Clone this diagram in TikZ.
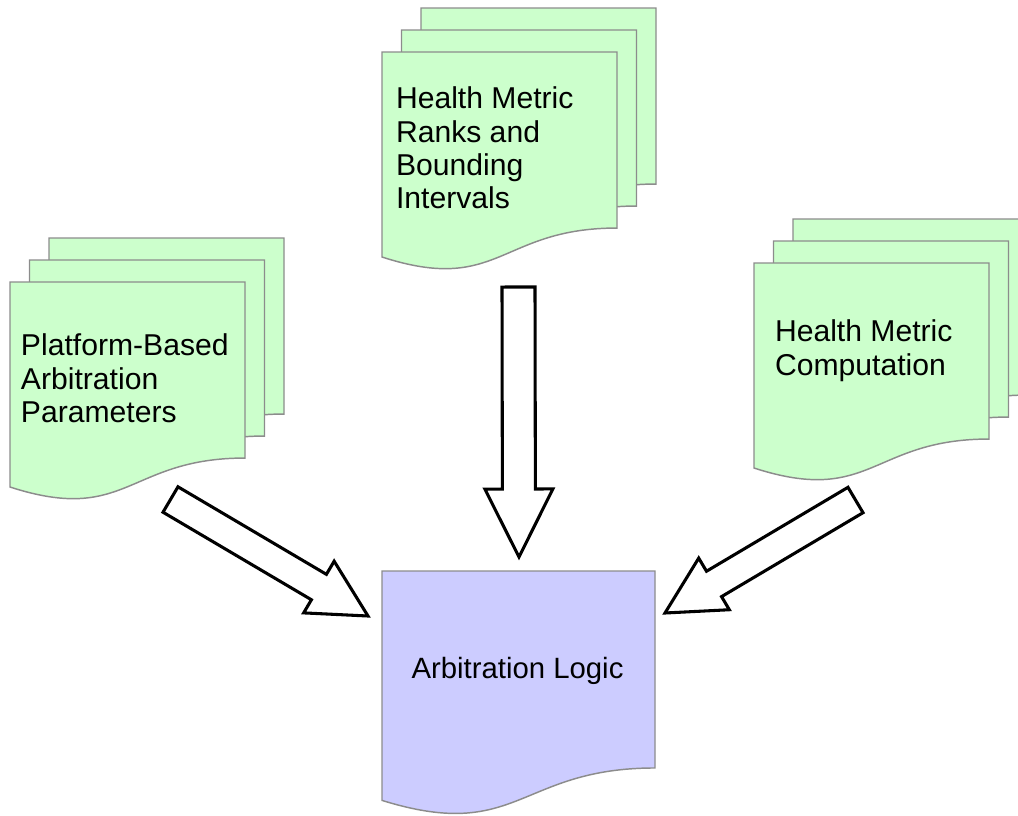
\documentclass[tikz,border=0pt]{standalone}
\usepackage{fontspec}
\setmainfont{Liberation Sans}
\usetikzlibrary{calc}

\definecolor{pagegreen}{RGB}{204,255,204}
\definecolor{pageblue}{RGB}{204,204,255}
\definecolor{pageedge}{RGB}{140,140,140}

% One sheet of the flowchart "document" shape: top-left corner (#1,#2),
% width #3, height #4 (wavy lower edge)
\newcommand\docpage[5]{%
  \filldraw[#5] (#1,#2) -- ({#1+#3},#2) -- ({#1+#3},{#2+0.802*#4})
    .. controls ({#1+0.5*#3},{#2+0.802*#4}) and ({#1+0.5*#3},{#2+1.107*#4}) ..
    (#1,{#2+0.934*#4}) -- cycle;}

% Three stacked sheets, front sheet at (#1,#2)
\newcommand\docstack[2]{%
  \docpage{#1+39}{#2-44}{235}{219.5}{sheet}
  \docpage{#1+19.5}{#2-22}{235}{219.5}{sheet}
  \docpage{#1}{#2}{235}{219.5}{sheet}}

% Hollow block arrow from coordinate #1 to coordinate #2:
% half shaft width #3, half head width #4, head length #5 (all in px)
\newcommand\blockarrow[5]{%
  \pgfmathsetmacro\bas{#3*0.75}%
  \pgfmathsetmacro\bah{#4*0.75}%
  \pgfmathsetmacro\bal{#5*0.75}%
  \coordinate (#1-j) at ($(#2)!\bal pt!(#1)$);
  \draw[fatarrow] ($(#1)!\bas pt!90:(#2)$) -- ($(#1-j)!\bas pt!90:(#2)$)
    -- ($(#1-j)!\bah pt!90:(#2)$) -- (#2) -- ($(#1-j)!\bah pt!-90:(#2)$)
    -- ($(#1-j)!\bas pt!-90:(#2)$) -- ($(#1)!\bas pt!-90:(#2)$) -- cycle;}

\begin{document}
\begin{tikzpicture}[x=0.75pt,y=-0.75pt,
  sheet/.style={fill=pagegreen,draw=pageedge,line width=1.1pt},
  logicsheet/.style={fill=pageblue,draw=pageedge,line width=1.1pt},
  fatarrow/.style={fill=white,draw=black,line width=2.3pt,line join=miter},
  label/.style={inner sep=0pt,outer sep=0pt,align=left,
    font=\fontsize{22.6pt}{25pt}\selectfont},
  logiclabel/.style={inner sep=0pt,outer sep=0pt,
    font=\fontsize{22pt}{25pt}\selectfont}]
\useasboundingbox (0,0) rectangle (1018,815);
\clip (0,0) rectangle (1018,815);

% input document stacks
\docstack{382}{52}
\docstack{10}{282}
\docstack{754}{263}

% arbitration logic sheet
\docpage{382}{571}{273}{245.6}{logicsheet}

% labels
\node[label,anchor=north west] (ranks) at (396,87) {Health Metric\\Ranks and\\Bounding\\Intervals};
\node[label,anchor=north west] (platform) at (21,334) {Platform-Based\\Arbitration\\Parameters};
\node[label,anchor=north west] (compute) at (775,320) {Health Metric\\Computation};
\node[logiclabel,anchor=north] (logic) at (517.5,657) {Arbitration Logic};

% block arrows feeding the arbitration logic
\coordinate (rankstail) at (518.5,287);
\coordinate (rankstip) at (519,557);
\coordinate (platformtail) at (170.5,499.5);
\coordinate (platformtip) at (368,616);
\coordinate (computetail) at (855.5,500);
\coordinate (computetip) at (665,613);

\blockarrow{rankstail}{rankstip}{16.5}{34}{68}
\blockarrow{platformtail}{platformtip}{14.75}{30}{57}
\blockarrow{computetail}{computetip}{14.75}{30}{57}
\end{tikzpicture}
\end{document}
